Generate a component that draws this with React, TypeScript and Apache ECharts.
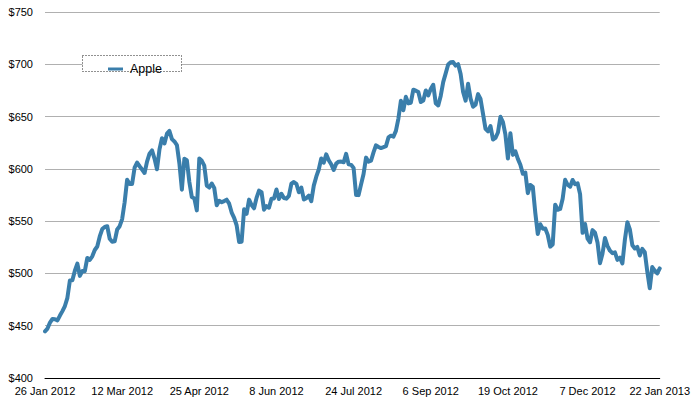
import React, { useEffect, useRef } from "react";
import * as echarts from "echarts";

// Trading days (category axis)
const dates: string[] = [
  "2012-01-26","2012-01-27","2012-01-30","2012-01-31",
  "2012-02-01","2012-02-02","2012-02-03","2012-02-06","2012-02-07","2012-02-08","2012-02-09","2012-02-10","2012-02-13","2012-02-14","2012-02-15","2012-02-16","2012-02-17","2012-02-21","2012-02-22","2012-02-23","2012-02-24","2012-02-27","2012-02-28","2012-02-29",
  "2012-03-01","2012-03-02","2012-03-05","2012-03-06","2012-03-07","2012-03-08","2012-03-09","2012-03-12","2012-03-13","2012-03-14","2012-03-15","2012-03-16","2012-03-19","2012-03-20","2012-03-21","2012-03-22","2012-03-23","2012-03-26","2012-03-27","2012-03-28","2012-03-29","2012-03-30",
  "2012-04-02","2012-04-03","2012-04-04","2012-04-05","2012-04-09","2012-04-10","2012-04-11","2012-04-12","2012-04-13","2012-04-16","2012-04-17","2012-04-18","2012-04-19","2012-04-20","2012-04-23","2012-04-24","2012-04-25","2012-04-26","2012-04-27","2012-04-30",
  "2012-05-01","2012-05-02","2012-05-03","2012-05-04","2012-05-07","2012-05-08","2012-05-09","2012-05-10","2012-05-11","2012-05-14","2012-05-15","2012-05-16","2012-05-17","2012-05-18","2012-05-21","2012-05-22","2012-05-23","2012-05-24","2012-05-25","2012-05-29","2012-05-30","2012-05-31",
  "2012-06-01","2012-06-04","2012-06-05","2012-06-06","2012-06-07","2012-06-08","2012-06-11","2012-06-12","2012-06-13","2012-06-14","2012-06-15","2012-06-18","2012-06-19","2012-06-20","2012-06-21","2012-06-22","2012-06-25","2012-06-26","2012-06-27","2012-06-28","2012-06-29",
  "2012-07-02","2012-07-03","2012-07-05","2012-07-06","2012-07-09","2012-07-10","2012-07-11","2012-07-12","2012-07-13","2012-07-16","2012-07-17","2012-07-18","2012-07-19","2012-07-20","2012-07-23","2012-07-24","2012-07-25","2012-07-26","2012-07-27","2012-07-30","2012-07-31",
  "2012-08-01","2012-08-02","2012-08-03","2012-08-06","2012-08-07","2012-08-08","2012-08-09","2012-08-10","2012-08-13","2012-08-14","2012-08-15","2012-08-16","2012-08-17","2012-08-20","2012-08-21","2012-08-22","2012-08-23","2012-08-24","2012-08-27","2012-08-28","2012-08-29","2012-08-30","2012-08-31",
  "2012-09-04","2012-09-05","2012-09-06","2012-09-07","2012-09-10","2012-09-11","2012-09-12","2012-09-13","2012-09-14","2012-09-17","2012-09-18","2012-09-19","2012-09-20","2012-09-21","2012-09-24","2012-09-25","2012-09-26","2012-09-27","2012-09-28",
  "2012-10-01","2012-10-02","2012-10-03","2012-10-04","2012-10-05","2012-10-08","2012-10-09","2012-10-10","2012-10-11","2012-10-12","2012-10-15","2012-10-16","2012-10-17","2012-10-18","2012-10-19","2012-10-22","2012-10-23","2012-10-24","2012-10-25","2012-10-26","2012-10-31",
  "2012-11-01","2012-11-02","2012-11-05","2012-11-06","2012-11-07","2012-11-08","2012-11-09","2012-11-12","2012-11-13","2012-11-14","2012-11-15","2012-11-16","2012-11-19","2012-11-20","2012-11-21","2012-11-23","2012-11-26","2012-11-27","2012-11-28","2012-11-29","2012-11-30",
  "2012-12-03","2012-12-04","2012-12-05","2012-12-06","2012-12-07","2012-12-10","2012-12-11","2012-12-12","2012-12-13","2012-12-14","2012-12-17","2012-12-18","2012-12-19","2012-12-20","2012-12-21","2012-12-24","2012-12-26","2012-12-27","2012-12-28","2012-12-31",
  "2013-01-02","2013-01-03","2013-01-04","2013-01-07","2013-01-08","2013-01-09","2013-01-10","2013-01-11","2013-01-14","2013-01-15","2013-01-16","2013-01-17","2013-01-18","2013-01-22",
];

// Apple closing prices
const apple: number[] = [
  444.63, 447.28, 453.01, 456.48,
  456.19, 455.12, 459.68, 463.97, 468.83, 476.68, 493.17, 493.42, 502.6, 509.46, 497.67, 502.21, 502.12, 514.85, 513.04, 516.39, 522.41, 525.76, 535.41, 542.44,
  544.47, 545.18, 533.16, 530.26, 530.69, 541.99, 545.17, 552.0, 568.1, 589.58, 585.56, 585.57, 601.1, 605.96, 602.5, 599.34, 596.05, 606.98, 614.48, 617.62, 609.86, 599.55,
  618.63, 629.32, 624.31, 633.68, 636.23, 628.44, 626.2, 622.77, 605.23, 580.13, 609.7, 608.34, 587.44, 572.98, 571.7, 560.28, 610.0, 607.7, 603.0, 583.98,
  582.13, 585.98, 581.82, 565.25, 569.48, 568.18, 569.18, 570.52, 566.71, 558.22, 553.17, 546.08, 530.12, 530.38, 561.28, 556.97, 570.56, 565.32, 562.29, 572.27, 579.17, 577.73,
  560.99, 564.29, 562.83, 571.46, 571.72, 580.32, 571.17, 576.16, 572.16, 571.53, 574.13, 585.78, 587.41, 585.74, 577.67, 582.1, 570.77, 572.02, 574.5, 569.05, 584.0,
  592.52, 599.41, 609.94, 605.88, 613.89, 608.21, 604.43, 598.9, 604.97, 606.91, 606.94, 606.26, 614.32, 604.3, 603.83, 600.92, 574.97, 574.88, 585.16, 595.03, 610.76,
  606.81, 607.79, 615.7, 622.55, 620.91, 619.86, 620.73, 621.7, 630.0, 631.69, 630.83, 636.34, 648.11, 665.15, 656.06, 668.87, 662.63, 663.22, 675.68, 674.8, 673.47, 663.87, 665.24,
  674.97, 670.23, 676.27, 680.44, 662.74, 660.59, 669.79, 682.98, 691.28, 699.78, 701.91, 702.1, 698.7, 700.09, 690.79, 673.54, 665.18, 681.32, 667.1,
  659.39, 661.31, 671.45, 666.8, 652.59, 638.17, 635.85, 640.91, 628.1, 629.71, 634.76, 649.79, 644.61, 632.64, 609.84, 634.03, 613.36, 616.83, 609.54, 604.0, 595.32,
  596.54, 576.8, 584.62, 582.85, 558.0, 537.75, 547.06, 542.83, 542.9, 536.88, 525.62, 527.68, 565.73, 560.91, 561.7, 571.5, 589.53, 584.78, 582.94, 589.36, 585.28,
  586.19, 575.85, 538.79, 547.24, 533.25, 529.82, 541.39, 539.0, 529.69, 509.79, 518.83, 533.9, 526.31, 521.73, 519.33, 520.17, 513.0, 515.06, 509.59, 532.17,
  549.03, 542.1, 527.0, 523.9, 525.31, 517.1, 523.51, 520.3, 501.75, 485.92, 506.09, 502.68, 500.0, 504.77,
];

const tickDates: string[] = [
  "2012-01-26", "2012-03-12", "2012-04-25", "2012-06-08", "2012-07-24",
  "2012-09-06", "2012-10-19", "2012-12-07", "2013-01-22",
];

const monthNames: string[] = ["Jan", "Feb", "Mar", "Apr", "May", "Jun", "Jul", "Aug", "Sep", "Oct", "Nov", "Dec"];

const FONT = "'Liberation Sans', Arial, Helvetica, sans-serif";

function fmtDate(s: string): string {
  const [y, m, d] = s.split("-").map((v) => parseInt(v, 10));
  return `${d} ${monthNames[m - 1]} ${y}`;
}

export default function App() {
  const ref = useRef<HTMLDivElement>(null);

  useEffect(() => {
    if (!ref.current) return;
    const chart = echarts.init(ref.current, null, { renderer: "svg" });
    chart.setOption({
      animation: false,
      backgroundColor: "#ffffff",
      textStyle: { fontFamily: FONT },
      grid: { left: 45, right: 33, top: 12, bottom: 21, containLabel: false },
      legend: {
        data: ["Apple"],
        left: 103,
        top: 56,
        icon: "rect",
        itemWidth: 15,
        itemHeight: 3,
        itemGap: 10,
        textStyle: { fontSize: 12.5, color: "#000", fontFamily: FONT, lineHeight: 16, padding: [0, 0, 0, 2] },
        z: 5,
      },
      graphic: [
        {
          type: "rect",
          z: 3,
          shape: { x: 82.5, y: 55.5, width: 99, height: 16 },
          style: { fill: "#ffffff", stroke: "#222", lineWidth: 1, lineDash: [1, 2] },
        },
      ],
      xAxis: {
        type: "category",
        data: dates,
        boundaryGap: false,
        axisLine: { show: true, lineStyle: { color: "#000", width: 1 } },
        axisTick: { show: false },
        splitLine: { show: false },
        axisLabel: {
          interval: (_i: number, v: string) => tickDates.includes(v),
          formatter: (v: string) => fmtDate(v),
          color: "#000",
          fontSize: 11,
          fontFamily: FONT,
          margin: 7,
          hideOverlap: false,
        },
      },
      yAxis: {
        type: "value",
        min: 400,
        max: 750,
        interval: 50,
        axisLine: { show: false },
        axisTick: { show: false },
        splitLine: { show: true, lineStyle: { color: "#b0b0b0", width: 1 } },
        axisLabel: {
          formatter: (v: number) => "$" + v,
          color: "#000",
          fontSize: 11,
          fontFamily: FONT,
          margin: 12,
        },
      },
      series: [
        {
          name: "Apple",
          type: "line",
          data: apple,
          showSymbol: false,
          symbol: "none",
          color: "#3a7eab",
          lineStyle: { width: 4, color: "#3a7eab", join: "round", cap: "round" },
          z: 2,
        },
      ],
    });
    return () => chart.dispose();
  }, []);

  return (
    <div
      ref={ref}
      style={{ position: "fixed", left: 0, top: 0, width: 693, height: 399, background: "#fff" }}
    />
  );
}
